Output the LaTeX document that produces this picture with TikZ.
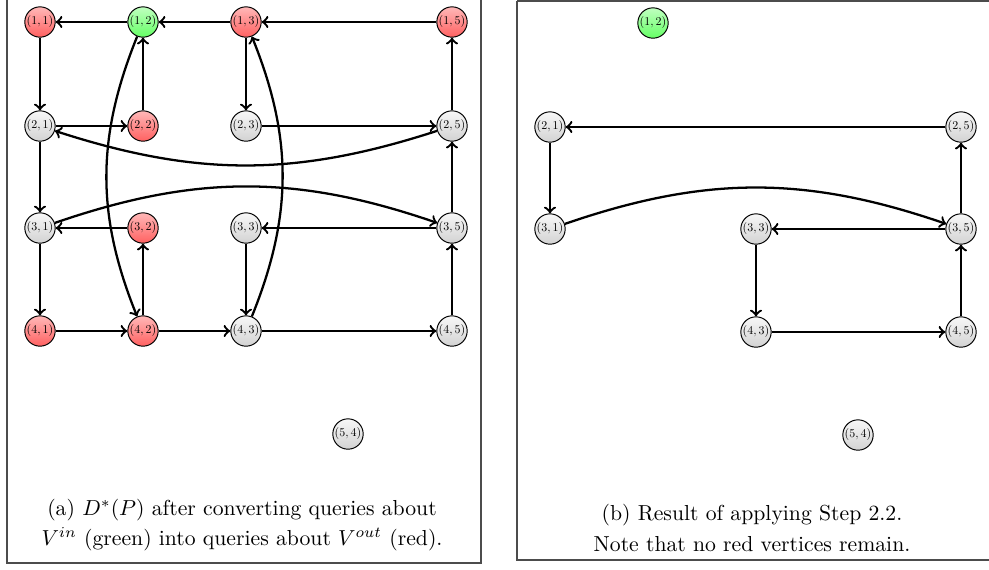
\documentclass[tikz,border=0pt]{standalone}
\usepackage{amsmath}
\usepackage{graphicx}
\newcommand{\vl}[2]{\scalebox{0.55}{$(#1,#2)$}}
\begin{document}
\begin{tikzpicture}[x=0.4608pt,y=0.4608pt,
  vtx/.style={circle, draw=black, line width=0.45pt, minimum size=14pt, inner sep=0pt},
  rv/.style={vtx, top color=red!28!white, bottom color=red!62!white},
  gv/.style={vtx, top color=green!25!white, bottom color=green!60!white},
  wv/.style={vtx, top color=gray!6, bottom color=gray!35},
  ed/.style={->, line width=1.05pt},
  frame/.style={draw=gray!60!black, line width=0.7pt}]
\useasboundingbox (0,0) rectangle (989,-569);
% frames
\draw[frame] (7,4) -- (7,-563) -- (481,-563) -- (481,4);
\draw[frame] (517,-1) -- (517,-560) -- (995,-560);
\draw[frame] (517,-1) -- (995,-1);
% left panel nodes
\node[rv] (a11) at (40,-22) {\vl11};
\node[gv] (a12) at (143,-22) {\vl12};
\node[rv] (a13) at (246,-22) {\vl13};
\node[rv] (a15) at (452,-22) {\vl15};
\node[wv] (a21) at (40,-126) {\vl21};
\node[rv] (a22) at (143,-126) {\vl22};
\node[wv] (a23) at (246,-126) {\vl23};
\node[wv] (a25) at (452,-126) {\vl25};
\node[wv] (a31) at (40,-228) {\vl31};
\node[rv] (a32) at (143,-228) {\vl32};
\node[wv] (a33) at (246,-228) {\vl33};
\node[wv] (a35) at (452,-228) {\vl35};
\node[rv] (a41) at (40,-331) {\vl41};
\node[rv] (a42) at (143,-331) {\vl42};
\node[wv] (a43) at (246,-331) {\vl43};
\node[wv] (a45) at (452,-331) {\vl45};
\node[wv] (a54) at (348,-434) {\vl54};
% left panel edges
\draw[ed] (a12) -- (a11);
\draw[ed] (a13) -- (a12);
\draw[ed] (a15) -- (a13);
\draw[ed] (a11) -- (a21);
\draw[ed] (a22) -- (a12);
\draw[ed] (a13) -- (a23);
\draw[ed] (a25) -- (a15);
\draw[ed] (a21) -- (a22);
\draw[ed] (a23) -- (a25);
\draw[ed] (a25) to[bend left=18] (a21);
\draw[ed] (a21) -- (a31);
\draw[ed] (a35) -- (a25);
\draw[ed] (a31) to[bend left=19] (a35);
\draw[ed] (a32) -- (a31);
\draw[ed] (a35) -- (a33);
\draw[ed] (a33) -- (a43);
\draw[ed] (a42) -- (a32);
\draw[ed] (a12) to[bend right=22] (a42);
\draw[ed] (a43) to[bend right=22] (a13);
\draw[ed] (a31) -- (a41);
\draw[ed] (a41) -- (a42);
\draw[ed] (a42) -- (a43);
\draw[ed] (a43) -- (a45);
\draw[ed] (a45) -- (a35);
% left caption
\node[align=center] (capa) at (242,-525) {(a) $D^{*}(P)$ after converting queries about\\[2pt] $V^{in}$ (green) into queries about $V^{out}$ (red).};
% right panel nodes
\node[gv] (b12) at (653,-23) {\vl12};
\node[wv] (b21) at (550,-127) {\vl21};
\node[wv] (b25) at (961,-127) {\vl25};
\node[wv] (b31) at (550,-229) {\vl31};
\node[wv] (b33) at (756,-229) {\vl33};
\node[wv] (b35) at (961,-229) {\vl35};
\node[wv] (b43) at (756,-332) {\vl43};
\node[wv] (b45) at (961,-332) {\vl45};
\node[wv] (b54) at (858,-435) {\vl54};
% right panel edges
\draw[ed] (b25) -- (b21);
\draw[ed] (b21) -- (b31);
\draw[ed] (b31) to[bend left=19] (b35);
\draw[ed] (b35) -- (b25);
\draw[ed] (b35) -- (b33);
\draw[ed] (b33) -- (b43);
\draw[ed] (b43) -- (b45);
\draw[ed] (b45) -- (b35);
% right caption
\node[align=center] (capb) at (752,-528) {(b) Result of applying Step 2.2.\\[2pt] Note that no red vertices remain.};
\end{tikzpicture}
\end{document}
